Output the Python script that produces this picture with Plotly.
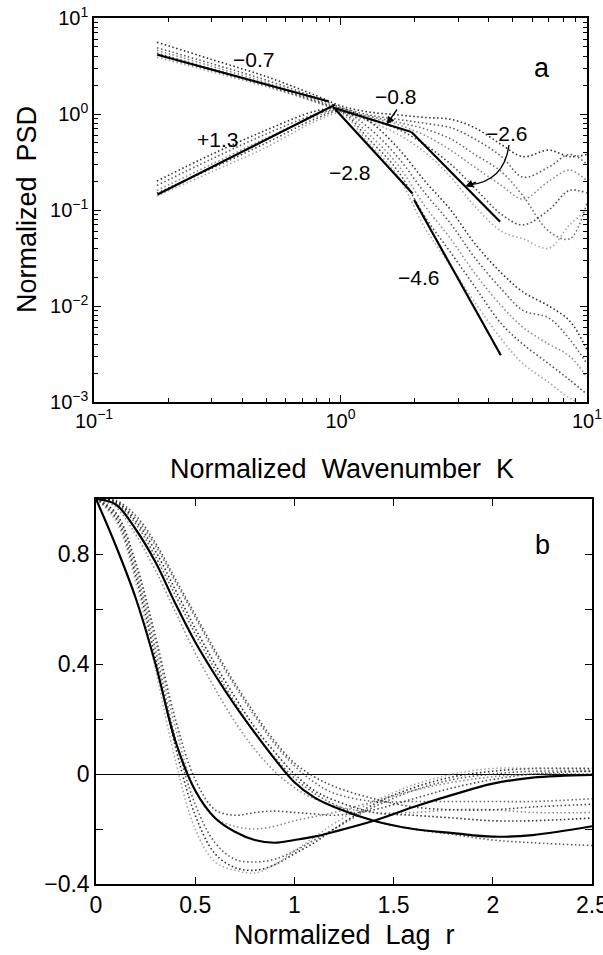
import math
import plotly.graph_objects as go

W, H = 603, 955
TICK_FONT = "Liberation Sans Narrow, Arial Narrow, Liberation Sans, Arial, sans-serif"
TITLE_FONT = "Liberation Sans, Arial, Helvetica, sans-serif"

# ---------------- panel a: normalized spectra ----------------
k_grid = [0.18, 0.3, 0.5, 0.8, 1.0, 1.3, 1.7, 2.2, 2.8, 3.5, 4.5, 5.5, 7, 8.5, 10]

psd_upper = [
    [5.6, 3.7, 2.45, 1.55, 1.22, 1.05, 0.98, 0.92, 0.88, 0.72, 0.48, 0.36, 0.42, 0.36, 0.38],
    [4.9, 3.35, 2.25, 1.48, 1.17, 0.98, 0.88, 0.80, 0.72, 0.55, 0.36, 0.22, 0.28, 0.38, 0.30],
    [4.6, 3.15, 2.12, 1.42, 1.12, 0.92, 0.78, 0.60, 0.42, 0.28, 0.18, 0.13, 0.20, 0.26, 0.20],
    [4.3, 2.95, 2.02, 1.37, 1.09, 0.88, 0.70, 0.48, 0.30, 0.17, 0.09, 0.07, 0.10, 0.16, 0.15],
    [3.9, 2.75, 1.92, 1.32, 1.06, 0.84, 0.62, 0.40, 0.22, 0.11, 0.06, 0.05, 0.04, 0.07, 0.10],
    [4.1, 2.85, 1.97, 1.33, 1.10, 0.95, 0.82, 0.70, 0.55, 0.38, 0.25, 0.14, 0.06, 0.05, 0.12],
]
psd_lower = [
    [0.20, 0.38, 0.68, 1.08, 1.15, 0.85, 0.45, 0.20, 0.100, 0.045, 0.022, 0.014, 0.0100, 0.0070, 0.0035],
    [0.18, 0.34, 0.62, 1.00, 1.10, 0.72, 0.36, 0.15, 0.072, 0.032, 0.015, 0.009, 0.0075, 0.0045, 0.0025],
    [0.16, 0.30, 0.56, 0.95, 1.08, 0.62, 0.30, 0.11, 0.050, 0.022, 0.010, 0.006, 0.0040, 0.0030, 0.0018],
    [0.15, 0.27, 0.50, 0.90, 1.05, 0.55, 0.26, 0.085, 0.036, 0.016, 0.0065, 0.004, 0.0025, 0.0017, 0.0012],
    [0.14, 0.25, 0.45, 0.85, 1.00, 0.50, 0.23, 0.065, 0.026, 0.011, 0.0045, 0.0025, 0.0016, 0.0011, 0.0009],
]

# fitted power-law segments: slope, start K, end K, PSD at start (None = continue previous)
seg_labels = ["\u22120.7", "+1.3", "\u22120.8", "\u22122.6", "\u22122.8", "\u22124.6"]
seg_slope = [-0.7, 1.3, -0.8, -2.6, -2.8, -4.6]
seg_k0 = [0.181, 0.181, 0.93, 1.94, 0.95, 1.99]
seg_k1 = [0.897, 0.95, 1.94, 4.44, 1.96, 4.47]
seg_p0 = [4.14, 0.145, 1.17, None, 1.13, 0.127]

# ---------------- panel b: correlation functions ----------------
r_grid = [0, 0.1, 0.2, 0.3, 0.4, 0.5, 0.6, 0.7, 0.8, 0.9, 1.0, 1.1, 1.2, 1.4, 1.6, 1.8, 2.0, 2.2, 2.5]

corr_fast = [1.0, 0.83, 0.64, 0.40, 0.12, -0.06, -0.16, -0.21, -0.24, -0.25, -0.24, -0.228,
             -0.21, -0.17, -0.12, -0.075, -0.035, -0.013, -0.003]
corr_slow = [1.0, 0.98, 0.89, 0.77, 0.62, 0.48, 0.36, 0.25, 0.15, 0.055, -0.03, -0.085,
             -0.12, -0.17, -0.20, -0.215, -0.228, -0.222, -0.19]

corr_dotted = [
    [1, 0.93, 0.72, 0.42, 0.10, -0.15, -0.29, -0.34, -0.35, -0.33, -0.29, -0.25, -0.20, -0.11, -0.05, -0.01, 0.01, 0.02, 0.02],
    [1, 0.94, 0.74, 0.45, 0.13, -0.11, -0.25, -0.31, -0.32, -0.31, -0.28, -0.24, -0.20, -0.12, -0.06, -0.02, 0.00, 0.01, 0.01],
    [1, 0.95, 0.76, 0.48, 0.17, -0.06, -0.16, -0.19, -0.20, -0.19, -0.17, -0.155, -0.14, -0.10, -0.06, -0.03, -0.01, 0.00, 0.00],
    [1, 0.95, 0.77, 0.50, 0.20, -0.02, -0.13, -0.15, -0.14, -0.135, -0.14, -0.145, -0.15, -0.13, -0.09, -0.05, -0.02, 0.00, 0.01],
    [1, 0.92, 0.70, 0.38, 0.05, -0.20, -0.32, -0.35, -0.36, -0.33, -0.28, -0.23, -0.18, -0.10, -0.04, 0.00, 0.02, 0.02, 0.015],
    [1, 0.99, 0.93, 0.83, 0.70, 0.57, 0.44, 0.32, 0.21, 0.11, 0.03, -0.03, -0.07, -0.10, -0.10, -0.10, -0.10, -0.10, -0.09],
    [1, 0.99, 0.92, 0.81, 0.67, 0.53, 0.40, 0.28, 0.17, 0.08, 0.00, -0.06, -0.095, -0.14, -0.15, -0.16, -0.17, -0.17, -0.16],
    [1, 0.985, 0.91, 0.79, 0.65, 0.51, 0.38, 0.26, 0.15, 0.06, -0.015, -0.07, -0.11, -0.17, -0.20, -0.22, -0.24, -0.25, -0.26],
    [1, 0.97, 0.87, 0.74, 0.59, 0.44, 0.31, 0.19, 0.09, 0.01, -0.05, -0.09, -0.115, -0.14, -0.14, -0.13, -0.13, -0.14, -0.14],
    [1, 0.995, 0.94, 0.84, 0.71, 0.58, 0.45, 0.33, 0.22, 0.12, 0.04, -0.01, -0.045, -0.09, -0.12, -0.13, -0.13, -0.12, -0.11],
]

# ---------------- layout geometry (pixels) ----------------
A_X0, A_X1, A_Y0, A_Y1 = 94, 587, 18, 402      # panel a plot box
B_X0, B_X1, B_Y0, B_Y1 = 96, 592, 499, 884     # panel b plot box


def px(x, y):
    return x / W, 1 - y / H


def a_to_px(k, p):
    x = A_X0 + (math.log10(k) + 1) / 2 * (A_X1 - A_X0)
    y = A_Y0 + (1 - math.log10(p)) / 4 * (A_Y1 - A_Y0)
    return x, y


def label(txt, lx, ly, family, size, angle=0):
    x, y = px(lx, ly)
    return dict(x=x, y=y, xref="paper", yref="paper", xanchor="center", yanchor="middle",
                text=txt, showarrow=False, textangle=angle,
                font=dict(family=family, size=size, color="black"))


dot_colors = ["rgba(10,10,10,0.85)", "rgba(50,50,50,0.8)", "rgba(100,100,100,0.75)",
              "rgba(30,30,30,0.8)", "rgba(130,130,130,0.7)", "rgba(70,70,70,0.8)"]
DOT = "1.5px,2.5px"

fig = go.Figure()

for i, row in enumerate(psd_upper + psd_lower):
    fig.add_trace(go.Scatter(x=k_grid, y=row, mode="lines", xaxis="x", yaxis="y",
                             line=dict(color=dot_colors[i % len(dot_colors)], width=1.6, dash=DOT),
                             line_shape="spline", hoverinfo="skip"))

seg_end = []
prev_end = None
for s, k0, k1, p0 in zip(seg_slope, seg_k0, seg_k1, seg_p0):
    if p0 is None:
        p0 = prev_end
    p1 = p0 * (k1 / k0) ** s
    seg_end.append((k0, p0, k1, p1))
    prev_end = p1
    fig.add_trace(go.Scatter(x=[k0, k1], y=[p0, p1], mode="lines", xaxis="x", yaxis="y",
                             line=dict(color="black", width=2.2), hoverinfo="skip"))

for i, row in enumerate(corr_dotted):
    fig.add_trace(go.Scatter(x=r_grid, y=row, mode="lines", xaxis="x2", yaxis="y2",
                             line=dict(color=dot_colors[i % len(dot_colors)], width=1.6, dash=DOT),
                             line_shape="spline", hoverinfo="skip"))

for row in (corr_fast, corr_slow):
    fig.add_trace(go.Scatter(x=r_grid, y=row, mode="lines", xaxis="x2", yaxis="y2",
                             line=dict(color="black", width=2.2), line_shape="spline",
                             hoverinfo="skip"))

annotations = []
label_pos = [(253, 60), (217, 140), (395, 97), (506, 133), (349, 173), (419, 278)]
for txt, (lx, ly) in zip(seg_labels, label_pos):
    annotations.append(label(txt, lx, ly, TICK_FONT, 21))

annotations.append(label("a", 542, 68, TITLE_FONT, 27))
annotations.append(label("b", 542, 545, TITLE_FONT, 27))

# arrow to the -0.8 segment
k0, p0, k1, p1 = seg_end[2]
k_head = 1.54
hx, hy = a_to_px(k_head, p0 * (k_head / k0) ** seg_slope[2])
x, y = px(hx, hy)
annotations.append(dict(x=x, y=y, xref="paper", yref="paper", ax=398 - hx, ay=108 - hy,
                        text="", showarrow=True, arrowhead=2, arrowsize=1.1, arrowwidth=1.4,
                        arrowcolor="black"))

# curved arrow to the -2.6 segment
k0, p0, k1, p1 = seg_end[3]
k_head = 3.21
hx, hy = a_to_px(k_head, p0 * (k_head / k0) ** seg_slope[3])
x0p, y0p = px(509, 145)
cxp, cyp = px(504, 182)
x1p, y1p = px(hx + 3, hy - 1.5)
shapes = [dict(type="path", xref="paper", yref="paper",
               path=f"M {x0p},{y0p} Q {cxp},{cyp} {x1p},{y1p}",
               line=dict(color="black", width=1.4))]
x, y = px(hx, hy)
annotations.append(dict(x=x, y=y, xref="paper", yref="paper", ax=12, ay=-5,
                        text="", showarrow=True, arrowhead=2, arrowsize=1.1, arrowwidth=1.4,
                        arrowcolor="black"))

# axis titles
annotations.append(label("Normalized\u00a0\u00a0Wavenumber\u00a0\u00a0K", 342, 469, TITLE_FONT, 27))
annotations.append(label("Normalized\u00a0\u00a0PSD", 27, 210, TITLE_FONT, 27, -90))
annotations.append(label("Normalized\u00a0\u00a0Lag\u00a0\u00a0r", 344, 935, TITLE_FONT, 27))

minor_log = [m * 10 ** e for e in range(-3, 1) for m in range(2, 10)]
axis_common = dict(showgrid=False, zeroline=False, showline=True, linecolor="black",
                   linewidth=1.5, mirror="allticks", ticks="inside", ticklen=7,
                   tickcolor="black", tickwidth=1.2, automargin=False,
                   ticklabeloverflow="allow")

fig.update_layout(
    width=W, height=H, margin=dict(l=0, r=0, t=0, b=0, pad=0, autoexpand=False),
    paper_bgcolor="white", plot_bgcolor="white", showlegend=False,
    annotations=annotations, shapes=shapes,
    xaxis=dict(axis_common, type="log", range=[-1, 1], domain=[A_X0 / W, A_X1 / W], anchor="y",
               tickmode="array", tickvals=[0.1, 1, 10],
               ticktext=["10<sup>\u22121</sup>", "10<sup>0</sup>", "10<sup>1</sup>"],
               tickfont=dict(family=TICK_FONT, size=20, color="black"),
               minor=dict(ticks="inside", ticklen=4, tickcolor="black", tickmode="array",
                          tickvals=[v for v in minor_log if 0.1 < v < 10])),
    yaxis=dict(axis_common, type="log", range=[-3, 1], domain=[1 - A_Y1 / H, 1 - A_Y0 / H],
               anchor="x", tickmode="array", tickvals=[0.001, 0.01, 0.1, 1, 10],
               ticktext=["10<sup>\u22123</sup>", "10<sup>\u22122</sup>", "10<sup>\u22121</sup>",
                         "10<sup>0</sup>", "10<sup>1</sup>"],
               tickfont=dict(family=TICK_FONT, size=20, color="black"),
               minor=dict(ticks="inside", ticklen=4, tickcolor="black", tickmode="array",
                          tickvals=[v for v in minor_log if 0.001 < v < 10])),
    xaxis2=dict(axis_common, range=[0, 2.5], domain=[B_X0 / W, B_X1 / W], anchor="y2",
                tickmode="array", tickvals=[0, 0.5, 1, 1.5, 2, 2.5],
                ticktext=["0", "0.5", "1", "1.5", "2", "2.5"],
                tickfont=dict(family=TICK_FONT, size=23, color="black")),
    yaxis2=dict(axis_common, range=[-0.4, 1.0], domain=[1 - B_Y1 / H, 1 - B_Y0 / H], anchor="x2",
                tickmode="array", tickvals=[-0.4, 0, 0.4, 0.8],
                ticktext=["\u22120.4", "0", "0.4", "0.8"],
                tickfont=dict(family=TICK_FONT, size=23, color="black"),
                minor=dict(ticks="inside", ticklen=7, tickcolor="black", dtick=0.2,
                           tick0=0),
                zeroline=True, zerolinecolor="black", zerolinewidth=1.4),
)

fig.write_html("out.html")
